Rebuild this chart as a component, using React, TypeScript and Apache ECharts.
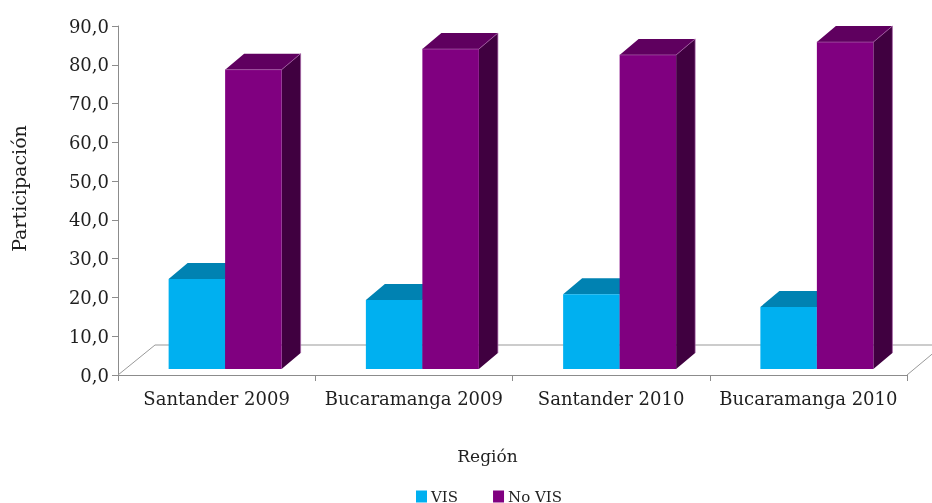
import React, { useEffect, useRef } from "react";
import * as echarts from "echarts";

const categories = ["Santander 2009", "Bucaramanga 2009", "Santander 2010", "Bucaramanga 2010"];
const visValues = [23.2, 17.8, 19.3, 16];
const noVisValues = [77.2, 82.5, 81, 84.3];
const yTicks = { min: 0, max: 90, interval: 10 };

const FONT = '"DejaVu Serif", serif';
const TEXT = "#1f1f1f";
const AXIS = "#8c8c8c";
const BAR_W = 56.5;
const DX = 19;
const DY = 16;
const LIFT = 6;
const SHIFT = 8.5;

function barRenderer(side: -1 | 1, front: string, top: string, right: string, edge?: string) {
  return (_p: any, api: any) => {
    const i = api.value(0);
    const base = api.coord([i, 0]);
    const head = api.coord([i, api.value(1)]);
    const x0 = side < 0 ? base[0] + SHIFT - BAR_W : base[0] + SHIFT;
    const x1 = x0 + BAR_W;
    const yb = base[1] - LIFT;
    const yt = head[1] - LIFT;
    const children: any[] = [
      { type: "polygon", shape: { points: [[x1, yb], [x1 + DX, yb - DY], [x1 + DX, yt - DY], [x1, yt]] }, style: { fill: right } },
      { type: "polygon", shape: { points: [[x0, yt], [x0 + DX, yt - DY], [x1 + DX, yt - DY], [x1, yt]] }, style: { fill: top } },
      { type: "rect", shape: { x: x0, y: yt, width: BAR_W, height: yb - yt }, style: { fill: front } },
    ];
    if (edge) {
      children.push({
        type: "polyline",
        shape: { points: [[x0, yt], [x1, yt], [x1 + DX, yt - DY], [x1 + DX, yb - DY]] },
        style: { stroke: edge, lineWidth: 0.7, fill: "none" },
      });
    }
    return { type: "group", children };
  };
}

function floorRenderer(_p: any, api: any) {
  const size = api.size([1, 0])[0];
  const a = api.coord([0, 0]);
  const x0 = a[0] - size / 2;
  const y0 = a[1];
  const x1 = x0 + size * categories.length;
  const style = { stroke: "#999999", lineWidth: 1, fill: "none" };
  return {
    type: "group",
    children: [
      { type: "polyline", shape: { points: [[x0, y0], [x0 + 37, y0 - 30], [x1 + 30, y0 - 30]] }, style },
      { type: "line", shape: { x1, y1: y0, x2: x1 + 30, y2: y0 - 25 }, style },
    ],
  };
}

export default function App() {
  const ref = useRef<HTMLDivElement>(null);
  useEffect(() => {
    const chart = echarts.init(ref.current!, undefined, { renderer: "svg" });
    chart.setOption({
      animation: false,
      grid: { left: 118, right: 25, top: 26, bottom: 128 },
      legend: {
        data: ["VIS", "No VIS"],
        left: 416,
        top: 489,
        padding: 0,
        icon: "rect",
        itemWidth: 11,
        itemHeight: 12,
        itemGap: 35,
        selectedMode: false,
        textStyle: { fontFamily: FONT, fontSize: 15, lineHeight: 12, color: TEXT, padding: [0, 0, 0, -1] },
      },
      xAxis: {
        type: "category",
        data: categories,
        name: "Región",
        nameLocation: "middle",
        nameGap: 72,
        nameTextStyle: { fontFamily: FONT, fontSize: 17, color: TEXT, padding: [0, 50, 0, 0] },
        axisLine: { lineStyle: { color: AXIS } },
        axisTick: { show: true, alignWithLabel: false, length: 6, lineStyle: { color: AXIS } },
        axisLabel: { fontFamily: FONT, fontSize: 18, color: TEXT, margin: 14, interval: 0 },
      },
      yAxis: {
        type: "value",
        ...yTicks,
        name: "Participación",
        nameLocation: "middle",
        nameGap: 90,
        nameTextStyle: { fontFamily: FONT, fontSize: 19, color: TEXT, padding: [0, 0, 0, 24] },
        axisLine: { show: true, lineStyle: { color: AXIS } },
        axisTick: { show: true, length: 6, lineStyle: { color: AXIS } },
        splitLine: { show: false },
        axisLabel: {
          fontFamily: FONT,
          fontSize: 18,
          color: TEXT,
          margin: 9,
          formatter: (v: number) => v.toFixed(1).replace(".", ","),
        },
      },
      series: [
        { type: "custom", name: "floor", z: 1, silent: true, data: [[0, 0]], renderItem: floorRenderer, encode: { x: 0, y: 1 } },
        {
          type: "custom",
          name: "VIS",
          z: 2,
          itemStyle: { color: "#00B0F0" },
          data: visValues.map((v, i) => [i, v]),
          renderItem: barRenderer(-1, "#00B0F0", "#0082B2", "#005F80"),
          encode: { x: 0, y: 1 },
        },
        {
          type: "custom",
          name: "No VIS",
          z: 3,
          itemStyle: { color: "#800080" },
          data: noVisValues.map((v, i) => [i, v]),
          renderItem: barRenderer(1, "#800080", "#5F005F", "#400040", "#A860A8"),
          encode: { x: 0, y: 1 },
        },
      ],
    });
    return () => chart.dispose();
  }, []);
  return <div ref={ref} style={{ position: "fixed", left: 0, top: 0, width: 932, height: 503 }} />;
}
